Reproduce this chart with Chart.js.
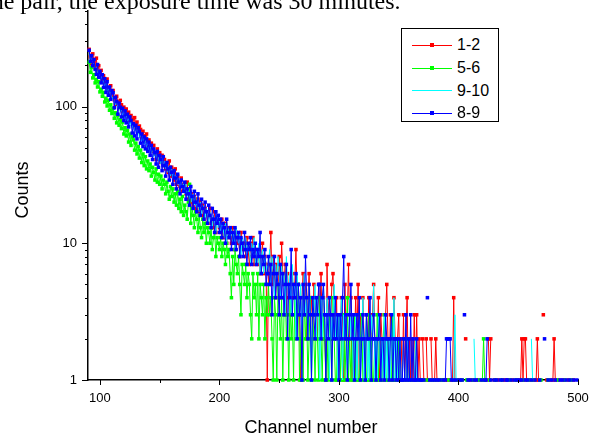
<!DOCTYPE html>
<html>
<head>
<meta charset="utf-8">
<script src="https://cdn.jsdelivr.net/npm/chart.js@4.4.1/dist/chart.umd.min.js"></script>
<style>
  html, body { margin: 0; padding: 0; background: #fff; }
  #wrap { position: relative; width: 596px; height: 437px; overflow: hidden; }
  #plot { position: absolute; left: 0; top: 0; }
  #caption { position: absolute; left: -15px; top: -11px; white-space: nowrap; color: #000;
             font: 24px/24px "Liberation Serif", "Times New Roman", serif; }
  #legend { position: absolute; left: 401px; top: 28px; width: 98px; height: 94px;
            border: 1px solid #000; box-sizing: border-box; background: #fff; }
  .row { position: absolute; left: 0; width: 100%; height: 22px; }
  .swatch { position: absolute; left: 10px; top: 10.5px; width: 40px; height: 0; border-top: 1px solid; }
  .mark { position: absolute; left: 18px; top: -2.5px; width: 4px; height: 4px; }
  .lab { position: absolute; left: 55px; top: 0; font: 16px/22px "Liberation Sans", Arial, sans-serif; color: #000; }
</style>
</head>
<body>
<div id="wrap">
  <canvas id="plot" width="596" height="437"></canvas>
  <div id="caption">the pair, the exposure time was 30 minutes.</div>
  <div id="legend"></div>
</div>
<script>
// spectrum starts at this channel, one count per channel up to 500
const firstChannel = 91;

const seriesNames = ['1-2', '5-6', '9-10', '8-9'];
const seriesColors = ['#ff0000', '#00ff00', '#00ffff', '#0000ff'];
const seriesMarkers = [true, true, false, true];

// counts per channel (0 = empty channel, not drawn on the log axis)
const counts12 = [
  262, 231, 205, 243, 214, 192, 226, 178, 199, 171,
  184, 157, 168, 149, 141, 159, 133, 126, 142, 117,
  131, 112, 104, 119, 108, 97, 111, 103, 92, 99,
  87, 96, 84, 91, 79, 86, 81, 74, 83, 69,
  77, 65, 72, 68, 59, 66, 61, 56, 63, 52,
  57, 50, 54, 47, 52, 45, 41, 49, 43, 46,
  39, 44, 37, 41, 35, 38, 33, 40, 31, 36,
  33, 29, 35, 27, 31, 28, 26, 30, 24, 27,
  25, 23, 28, 21, 24, 20, 23, 19, 22, 21,
  18, 21, 17, 20, 16, 19, 15, 18, 17, 14,
  16, 18, 14, 15, 13, 17, 12, 15, 14, 13,
  12, 15, 11, 13, 14, 10, 12, 13, 11, 10,
  13, 11, 9, 12, 10, 11, 8, 12, 10, 9,
  10, 8, 11, 9, 7, 10, 8, 11, 7, 9,
  8, 7, 9, 6, 8, 10, 6, 8, 7, 1,
  6, 7, 12, 5, 8, 6, 4, 7, 5, 8,
  4, 10, 6, 5, 7, 3, 6, 4, 5, 3,
  6, 4, 5, 9, 4, 5, 3, 1, 4, 6,
  3, 5, 2, 4, 6, 3, 4, 2, 5, 3,
  4, 2, 5, 3, 6, 2, 4, 3, 1, 7,
  3, 4, 2, 5, 6, 3, 2, 4, 1, 3,
  2, 4, 3, 1, 5, 2, 3, 7, 2, 4,
  1, 3, 2, 4, 2, 5, 1, 3, 2, 4,
  2, 1, 3, 2, 4, 1, 2, 3, 5, 2,
  1, 2, 4, 1, 3, 2, 1, 2, 3, 5,
  2, 1, 3, 2, 1, 4, 2, 1, 2, 3,
  1, 2, 1, 3, 1, 2, 4, 1, 2, 1,
  2, 1, 3, 1, 3, 1, 2, 1, 0, 2,
  1, 0, 2, 1, 1, 0, 2, 1, 0, 1,
  2, 1, 0, 1, 0, 1, 1, 0, 1, 0,
  1, 0, 1, 0, 1, 4, 1, 0, 1, 0,
  0, 1, 0, 0, 0, 2, 0, 1, 0, 0,
  1, 0, 0, 1, 0, 0, 1, 0, 0, 1,
  0, 0, 1, 0, 2, 1, 2, 0, 0, 1,
  0, 0, 1, 0, 0, 0, 1, 0, 1, 0,
  0, 1, 0, 0, 1, 0, 0, 0, 1, 0,
  0, 1, 2, 1, 2, 2, 1, 0, 0, 1,
  0, 0, 1, 0, 1, 2, 1, 0, 0, 0,
  3, 0, 0, 1, 0, 0, 1, 0, 1, 2,
  1, 0, 0, 1, 0, 0, 0, 1, 0, 0,
  0, 1, 0, 0, 0, 1, 0, 0, 0, 0
];

const counts56 = [
  211, 178, 193, 162, 171, 149, 158, 139, 152, 128,
  134, 119, 127, 108, 115, 101, 111, 94, 103, 89,
  97, 82, 90, 76, 86, 73, 80, 69, 77, 63,
  70, 61, 67, 55, 63, 52, 60, 57, 48, 54,
  45, 51, 42, 48, 39, 45, 37, 43, 35, 40,
  34, 38, 31, 36, 33, 29, 35, 28, 32, 27,
  31, 25, 29, 27, 23, 28, 24, 21, 26, 22,
  25, 20, 23, 19, 24, 18, 21, 17, 22, 16,
  19, 17, 15, 20, 27, 14, 18, 16, 13, 17,
  15, 12, 16, 13, 11, 15, 12, 14, 10, 13,
  12, 10, 13, 9, 11, 12, 8, 11, 10, 9,
  11, 8, 10, 9, 7, 10, 8, 9, 6, 4,
  8, 5, 9, 7, 6, 8, 5, 3, 7, 6,
  5, 7, 4, 6, 5, 3, 2, 6, 4, 5,
  3, 6, 2, 5, 4, 3, 5, 2, 4, 3,
  5, 3, 4, 2, 1, 4, 3, 1, 5, 3,
  2, 4, 1, 3, 5, 2, 3, 1, 4, 2,
  3, 1, 4, 2, 3, 5, 1, 2, 3, 1,
  4, 2, 3, 1, 2, 4, 1, 3, 2, 1,
  3, 2, 1, 4, 2, 1, 3, 2, 1, 2,
  1, 3, 2, 1, 4, 2, 1, 1, 3, 2,
  1, 2, 1, 3, 1, 2, 4, 1, 2, 1,
  2, 1, 3, 1, 2, 1, 1, 2, 3, 1,
  1, 2, 1, 1, 3, 1, 2, 1, 1, 2,
  1, 3, 1, 2, 1, 1, 2, 3, 1, 1,
  2, 1, 0, 1, 3, 1, 1, 0, 1, 2,
  1, 0, 1, 1, 0, 2, 1, 0, 1, 0,
  1, 0, 0, 1, 1, 0, 1, 0, 0, 1,
  0, 1, 0, 0, 1, 0, 0, 1, 0, 0,
  1, 0, 0, 0, 1, 0, 1, 0, 0, 0,
  0, 1, 0, 0, 0, 1, 0, 0, 1, 0,
  0, 0, 1, 0, 0, 0, 1, 0, 0, 0,
  0, 1, 0, 0, 0, 0, 1, 0, 0, 1,
  2, 1, 0, 0, 0, 1, 0, 0, 0, 0,
  1, 0, 0, 0, 0, 1, 0, 0, 0, 0,
  0, 0, 1, 0, 0, 0, 0, 1, 0, 0,
  0, 0, 0, 1, 0, 0, 0, 0, 1, 0,
  0, 1, 0, 0, 0, 0, 0, 1, 1, 0,
  0, 0, 0, 0, 1, 0, 0, 0, 0, 0,
  0, 0, 1, 0, 0, 0, 0, 0, 1, 0,
  0, 0, 0, 1, 0, 0, 0, 0, 0, 0
];

const counts910 = [
  244, 219, 229, 196, 208, 183, 195, 171, 186, 159,
  166, 147, 155, 138, 149, 129, 136, 122, 131, 112,
  118, 107, 103, 112, 95, 101, 91, 97, 86, 93,
  81, 88, 78, 83, 72, 79, 70, 74, 66, 71,
  63, 68, 59, 64, 56, 61, 53, 58, 51, 55,
  48, 53, 46, 50, 43, 48, 41, 46, 40, 44,
  38, 42, 36, 40, 35, 38, 33, 37, 31, 35,
  30, 33, 29, 32, 27, 30, 26, 29, 25, 28,
  23, 27, 22, 25, 21, 24, 20, 23, 19, 22,
  18, 21, 17, 20, 16, 19, 18, 15, 18, 16,
  14, 17, 15, 13, 16, 14, 12, 16, 13, 15,
  12, 14, 13, 11, 14, 10, 13, 12, 11, 13,
  10, 12, 9, 13, 11, 10, 12, 8, 11, 10,
  9, 11, 8, 10, 9, 7, 10, 8, 11, 7,
  9, 7, 10, 6, 8, 9, 6, 8, 7, 6,
  7, 9, 5, 8, 6, 4, 7, 5, 8, 6,
  4, 7, 5, 6, 3, 8, 5, 4, 6, 3,
  7, 4, 5, 2, 6, 4, 3, 5, 2, 4,
  6, 3, 4, 2, 5, 3, 1, 4, 3, 5,
  2, 4, 3, 1, 4, 2, 5, 3, 2, 4,
  3, 1, 4, 2, 3, 5, 2, 3, 1, 3,
  2, 4, 1, 3, 2, 3, 1, 2, 4, 2,
  3, 1, 2, 3, 1, 2, 3, 1, 2, 4,
  1, 2, 3, 1, 2, 1, 3, 2, 5, 1,
  2, 1, 3, 2, 1, 2, 1, 3, 1, 2,
  1, 2, 1, 3, 1, 4, 1, 2, 1, 1,
  2, 1, 1, 2, 0, 1, 2, 1, 0, 1,
  1, 0, 1, 2, 1, 0, 1, 1, 0, 1,
  0, 1, 0, 1, 0, 0, 1, 0, 1, 0,
  1, 0, 0, 1, 0, 1, 0, 0, 1, 0,
  0, 1, 0, 0, 1, 1, 3, 1, 0, 0,
  1, 0, 0, 1, 0, 0, 1, 0, 0, 0,
  1, 0, 2, 1, 0, 0, 2, 0, 2, 0,
  0, 1, 0, 0, 0, 1, 0, 0, 1, 0,
  0, 0, 1, 0, 0, 1, 0, 0, 0, 1,
  0, 0, 0, 1, 0, 0, 1, 0, 0, 0,
  1, 0, 0, 0, 0, 1, 0, 0, 1, 0,
  2, 1, 0, 0, 0, 1, 0, 0, 0, 1,
  0, 0, 0, 1, 0, 0, 0, 0, 1, 0,
  0, 0, 1, 0, 0, 0, 0, 1, 0, 0,
  1, 0, 0, 0, 0, 0, 1, 0, 0, 0
];

const counts89 = [
  258, 214, 236, 199, 221, 187, 172, 203, 164, 181,
  149, 171, 138, 160, 127, 152, 121, 139, 113, 131,
  126, 98, 117, 109, 88, 106, 99, 84, 97, 79,
  93, 76, 88, 71, 84, 79, 64, 75, 61, 73,
  58, 70, 66, 54, 63, 51, 60, 49, 58, 47,
  55, 44, 52, 41, 49, 46, 38, 47, 36, 44,
  41, 34, 43, 37, 31, 39, 35, 29, 36, 33,
  27, 34, 30, 25, 32, 28, 23, 29, 26, 24,
  28, 21, 25, 23, 19, 26, 22, 18, 24, 20,
  17, 23, 19, 16, 21, 18, 15, 20, 17, 14,
  19, 16, 13, 18, 15, 12, 17, 14, 16, 12,
  15, 11, 14, 13, 10, 15, 12, 11, 13, 9,
  12, 10, 13, 9, 11, 12, 8, 11, 10, 8,
  12, 9, 7, 10, 9, 11, 7, 9, 8, 10,
  7, 9, 8, 12, 6, 8, 7, 9, 5, 6,
  8, 5, 7, 3, 6, 8, 4, 6, 5, 3,
  7, 4, 6, 3, 5, 7, 2, 5, 4, 9,
  3, 5, 4, 6, 2, 5, 3, 4, 1, 5,
  3, 8, 4, 2, 5, 3, 1, 4, 3, 2,
  4, 3, 5, 5, 2, 4, 5, 3, 1, 3,
  2, 4, 3, 1, 3, 2, 4, 2, 3, 1,
  3, 2, 4, 8, 2, 3, 1, 2, 3, 5,
  2, 3, 1, 2, 3, 2, 4, 1, 2, 3,
  2, 1, 3, 2, 2, 4, 1, 2, 3, 2,
  1, 2, 2, 3, 1, 2, 2, 1, 3, 2,
  2, 1, 2, 3, 1, 2, 2, 1, 2, 1,
  2, 1, 1, 2, 1, 3, 1, 2, 1, 3,
  1, 2, 1, 1, 2, 1, 0, 1, 1, 0,
  1, 0, 0, 4, 0, 1, 0, 1, 0, 1,
  0, 1, 0, 1, 0, 0, 1, 0, 1, 2,
  2, 2, 2, 1, 0, 1, 0, 1, 0, 0,
  1, 0, 1, 0, 3, 0, 0, 1, 0, 1,
  0, 0, 1, 0, 1, 0, 0, 0, 1, 0,
  0, 1, 1, 2, 0, 0, 1, 0, 0, 1,
  0, 1, 0, 0, 1, 0, 1, 0, 0, 1,
  1, 0, 0, 1, 0, 0, 1, 0, 1, 0,
  1, 0, 1, 0, 0, 1, 0, 1, 0, 0,
  1, 0, 0, 1, 0, 0, 0, 1, 0, 0,
  0, 2, 0, 0, 1, 0, 0, 1, 0, 0,
  1, 0, 0, 0, 1, 0, 1, 0, 0, 1,
  0, 0, 1, 0, 0, 1, 0, 0, 1, 0
];

const seriesCounts = [counts12, counts56, counts910, counts89];

// axis ticks
const xTicks = [100, 150, 200, 250, 300, 350, 400, 450, 500];
const xLabels = [100, 200, 300, 400, 500];
const yTicks = [1, 2, 3, 4, 5, 6, 7, 8, 9, 10, 20, 30, 40, 50, 60, 70, 80, 90, 100, 200, 300, 400, 500];
const yLabels = [1, 10, 100];

const fontFamily = '"Liberation Sans", Arial, sans-serif';
Chart.defaults.font.family = fontFamily;
Chart.defaults.color = '#000';

// draws outward ticks (long on labelled values) and the two axis titles
const axisDecor = {
  id: 'axisDecor',
  afterDraw(chart) {
    const ctx = chart.ctx;
    const area = chart.chartArea;
    const xs = chart.scales.x, ys = chart.scales.y;
    ctx.save();
    ctx.strokeStyle = '#000';
    ctx.lineWidth = 1;
    ctx.beginPath();
    xs.ticks.forEach(t => {
      const px = Math.round(xs.getPixelForValue(t.value)) + 0.5;
      const len = xLabels.includes(t.value) ? 5 : 3;
      ctx.moveTo(px, area.bottom);
      ctx.lineTo(px, area.bottom + len);
    });
    ys.ticks.forEach(t => {
      const py = Math.round(ys.getPixelForValue(t.value)) + 0.5;
      const len = yLabels.includes(t.value) ? 6 : 3;
      ctx.moveTo(area.left, py);
      ctx.lineTo(area.left - len, py);
    });
    ctx.stroke();

    ctx.fillStyle = '#000';
    ctx.font = '18px ' + fontFamily;
    ctx.textAlign = 'center';
    ctx.textBaseline = 'alphabetic';
    ctx.fillText('Channel number', 311, 433);
    ctx.translate(28, 190);
    ctx.rotate(-Math.PI / 2);
    ctx.fillText('Counts', 0, 0);
    ctx.restore();
  }
};

const datasets = seriesNames.map((name, k) => ({
  label: name,
  data: seriesCounts[k].map((c, i) => ({ x: firstChannel + i, y: c > 0 ? c : null })),
  borderColor: seriesColors[k],
  backgroundColor: seriesColors[k],
  borderWidth: 1,
  pointStyle: 'rect',
  pointRadius: seriesMarkers[k] ? 2.5 : 0,
  pointBorderWidth: 0,
  pointBackgroundColor: seriesColors[k],
  spanGaps: false,
  tension: 0,
  clip: 6,
  order: seriesNames.length - k
}));

new Chart(document.getElementById('plot'), {
  type: 'line',
  data: { datasets: datasets },
  options: {
    responsive: false,
    animation: false,
    events: [],
    layout: { padding: { top: 11, right: 18, left: 0, bottom: 0 } },
    plugins: { legend: { display: false }, tooltip: { enabled: false } },
    scales: {
      x: {
        type: 'linear',
        min: 90,
        max: 500,
        afterFit: s => { s.height = 57; s.paddingLeft = 0; s.paddingRight = 0; },
        afterBuildTicks: s => { s.ticks = xTicks.map(v => ({ value: v })); },
        grid: { display: false, drawTicks: false },
        border: { display: true, color: '#000', width: 1.5 },
        ticks: {
          autoSkip: false, maxRotation: 0, padding: 11,
          font: { size: 13 },
          callback: v => xLabels.includes(v) ? String(v) : ''
        }
      },
      y: {
        type: 'logarithmic',
        min: 1,
        max: 500,
        afterFit: s => { s.width = 88; s.paddingTop = 0; s.paddingBottom = 0; },
        afterBuildTicks: s => { s.ticks = yTicks.map(v => ({ value: v })); },
        grid: { display: false, drawTicks: false },
        border: { display: true, color: '#000', width: 1.5 },
        ticks: {
          autoSkip: false, padding: 11,
          font: { size: 13 },
          callback: v => yLabels.includes(v) ? String(v) : ''
        }
      }
    }
  },
  plugins: [axisDecor]
});

// legend box built from the series lists
const legend = document.getElementById('legend');
seriesNames.forEach((name, k) => {
  const row = document.createElement('div');
  row.className = 'row';
  row.style.top = (5.3 + k * 22.7) + 'px';
  const sw = document.createElement('div');
  sw.className = 'swatch';
  sw.style.borderColor = seriesColors[k];
  if (seriesMarkers[k]) {
    const mk = document.createElement('div');
    mk.className = 'mark';
    mk.style.background = seriesColors[k];
    sw.appendChild(mk);
  }
  const lab = document.createElement('div');
  lab.className = 'lab';
  lab.textContent = name;
  row.appendChild(sw);
  row.appendChild(lab);
  legend.appendChild(row);
});
</script>
</body>
</html>
